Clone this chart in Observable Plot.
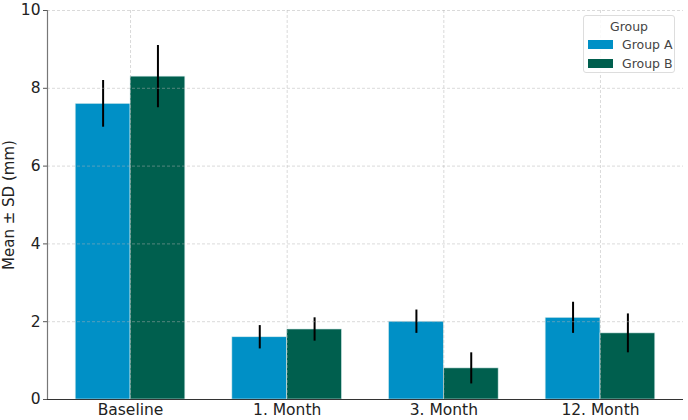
<!DOCTYPE html>
<html>
<head>
<meta charset="utf-8">
<script src="https://cdn.jsdelivr.net/npm/d3@7"></script>
<script src="https://cdn.jsdelivr.net/npm/@observablehq/plot@0.6"></script>
<style>
  html, body { margin: 0; padding: 0; background: #fff; }
  #wrap { position: relative; width: 688px; height: 420px; font-family: "DejaVu Sans", sans-serif; }
  #legend { position: absolute; left: 583px; top: 15px; width: 92px; height: 58px; box-sizing: border-box;
    border: 1px solid #ddd; border-radius: 3px; background: rgba(255,255,255,0.85); font-size: 12.5px; color: #444; }
  #legend .title { text-align: center; margin-top: 3px; line-height: 16px; }
  #legend .row { display: flex; align-items: center; height: 19px; }
  #legend .sw { width: 25px; height: 9px; margin-left: 4px; margin-right: 9px; }
</style>
</head>
<body>
<div id="wrap"></div>
<script>
const categories = ["Baseline", "1. Month", "3. Month", "12. Month"];
const groups = ["Group A", "Group B"];
const meanA = [7.6, 1.6, 2.0, 2.1];
const sdA   = [0.6, 0.3, 0.3, 0.4];
const meanB = [8.3, 1.8, 0.8, 1.7];
const sdB   = [0.8, 0.3, 0.4, 0.5];
const colors = ["#0090c6", "#005f4e"];
const yTicks = [0, 2, 4, 6, 8, 10];

const barW = 0.35;
const rows = [];
categories.forEach((c, i) => {
  rows.push({cat: c, i, group: groups[0], mean: meanA[i], sd: sdA[i], x1: i - barW, x2: i});
  rows.push({cat: c, i, group: groups[1], mean: meanB[i], sd: sdB[i], x1: i, x2: i + barW});
});

const chart = Plot.plot({
  width: 688,
  height: 420,
  marginLeft: 47,
  marginRight: 5,
  marginTop: 10,
  marginBottom: 21,
  style: {fontFamily: "DejaVu Sans, sans-serif", fontSize: "15.5px", color: "#222"},
  x: {type: "linear", domain: [-0.53, 3.53]},
  y: {domain: [0, 10]},
  color: {domain: groups, range: colors},
  marks: [
    Plot.rectY(rows, {x1: "x1", x2: "x2", y: "mean", fill: "group", stroke: "#d8ecec", strokeWidth: 0.6}),
    Plot.ruleX(rows, {x: d => (d.x1 + d.x2) / 2, y1: d => d.mean - d.sd, y2: d => d.mean + d.sd, stroke: "#000", strokeWidth: 2}),
    Plot.gridY(yTicks, {stroke: "#b0b0b0", strokeOpacity: 0.6, strokeDasharray: "3,2", strokeWidth: 0.8}),
    Plot.gridX([0, 1, 2, 3], {stroke: "#b0b0b0", strokeOpacity: 0.6, strokeDasharray: "3,2", strokeWidth: 0.8}),
    Plot.axisY(yTicks, {tickSize: 4, tickPadding: 3, fontSize: 15.5, label: null, stroke: "#555"}),
    Plot.axisX([0, 1, 2, 3], {tickSize: 0, tickPadding: 4, fontSize: 15.5, tickFormat: i => categories[i], label: null}),
    Plot.ruleX([-0.53], {stroke: "#777", strokeWidth: 1.2}),
    Plot.ruleY([0], {stroke: "#333", strokeWidth: 1.2})
  ]
});

const wrap = document.getElementById("wrap");
chart.style.position = "absolute";
chart.style.left = "0px";
chart.style.top = "0px";
wrap.appendChild(chart);

// y axis label
const ns = "http://www.w3.org/2000/svg";
const t = document.createElementNS(ns, "text");
t.setAttribute("transform", "translate(14,205) rotate(-90)");
t.setAttribute("text-anchor", "middle");
t.setAttribute("font-size", "15");
t.setAttribute("fill", "#222");
t.textContent = "Mean \u00b1 SD (mm)";
chart.appendChild(t);

// legend
const lg = document.createElement("div");
lg.id = "legend";
lg.innerHTML = `<div class="title">Group</div>` + groups.map((g, k) =>
  `<div class="row"><div class="sw" style="background:${colors[k]}"></div><span>${g}</span></div>`).join("");
wrap.appendChild(lg);
</script>
</body>
</html>
